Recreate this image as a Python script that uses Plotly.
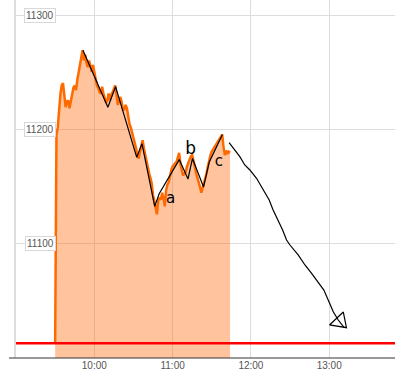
import plotly.graph_objects as go

DAY = "2024-01-02 "

# Intraday index values (orange area)
times = ["09:30", "09:31", "09:32", "09:33", "09:34", "09:35", "09:36", "09:37", "09:38", "09:39",
         "09:40", "09:41", "09:42", "09:43", "09:44", "09:45", "09:46", "09:47", "09:48", "09:49",
         "09:50", "09:51", "09:52", "09:53", "09:54", "09:55", "09:56", "09:57", "09:58", "09:59",
         "10:00", "10:01", "10:02", "10:03", "10:04", "10:05", "10:06", "10:07", "10:08", "10:09",
         "10:10", "10:11", "10:12", "10:13", "10:14", "10:15", "10:16", "10:17", "10:18", "10:19",
         "10:20", "10:21", "10:22", "10:23", "10:24", "10:25", "10:26", "10:27", "10:28", "10:29",
         "10:30", "10:31", "10:32", "10:33", "10:34", "10:35", "10:36", "10:37", "10:38", "10:39",
         "10:40", "10:41", "10:42", "10:43", "10:44", "10:45", "10:46", "10:47", "10:48", "10:49",
         "10:50", "10:51", "10:52", "10:53", "10:54", "10:55", "10:56", "10:57", "10:58", "10:59",
         "11:00", "11:01", "11:02", "11:03", "11:04", "11:05", "11:06", "11:07", "11:08", "11:09",
         "11:10", "11:11", "11:12", "11:13", "11:14", "11:15", "11:16", "11:17", "11:18", "11:19",
         "11:20", "11:21", "11:22", "11:23", "11:24", "11:25", "11:26", "11:27", "11:28", "11:29",
         "11:30", "11:31", "11:32", "11:33", "11:34", "11:35", "11:36", "11:37", "11:38", "11:39",
         "11:40", "11:41", "11:42", "11:43", "11:44"]
values = [11013, 11196, 11202, 11218, 11231, 11239, 11241, 11231, 11220, 11225,
          11226, 11219, 11226, 11232, 11237, 11239, 11235, 11244, 11251, 11256,
          11261, 11270, 11261, 11266, 11259, 11255, 11261, 11254, 11251, 11257,
          11251, 11245, 11239, 11237, 11233, 11232, 11238, 11232, 11228, 11224,
          11226, 11232, 11226, 11231, 11233, 11237, 11239, 11231, 11222, 11225,
          11229, 11224, 11218, 11218, 11222, 11219, 11211, 11205, 11202, 11198,
          11194, 11189, 11184, 11178, 11175, 11181, 11187, 11191, 11184, 11178,
          11174, 11168, 11162, 11158, 11153, 11143, 11137, 11132, 11126, 11139,
          11140, 11139, 11145, 11140, 11133, 11147, 11152, 11154, 11160, 11165,
          11168, 11170, 11171, 11172, 11176, 11180, 11170, 11163, 11160, 11162,
          11163, 11168, 11171, 11175, 11177, 11178, 11174, 11168, 11162, 11157,
          11154, 11150, 11145, 11149, 11153, 11157, 11162, 11168, 11174, 11178,
          11181, 11183, 11185, 11186, 11189, 11191, 11193, 11195, 11196, 11185,
          11178, 11182, 11179, 11181, 11180]

prev_close = 11013

# Hand-drawn zigzag annotation
zig_times = ["09:51:18", "10:10:24", "10:16:18", "10:32:30", "10:36:30", "10:46:18", "10:49:42",
             "11:05:06", "11:11:48", "11:15:12", "11:23:42", "11:28:06", "11:38:12"]
zig_values = [11270, 11220, 11238, 11176, 11188, 11133, 11144,
              11174, 11157, 11175, 11150, 11172, 11196]

# Hand-drawn arrow
arrow_times = ["11:43:18", "11:47:39", "11:51:30", "11:55:18", "11:59:12", "12:04:18", "12:09:24",
               "12:14:00", "12:17:00", "12:20:54", "12:24:18", "12:27:18", "12:29:54", "12:36:12",
               "12:41:24", "12:46:30", "12:51:36", "12:55:54", "12:59:12", "13:03:06", "13:06:54",
               "13:11:18"]
arrow_values = [11189, 11182.5, 11176.6, 11169.3, 11164.9, 11157.6, 11147.4,
                11138.6, 11129.8, 11121.1, 11112.3, 11103.5, 11099.1, 11090.4,
                11081.6, 11074.3, 11066.9, 11059.6, 11050.9, 11040.6, 11033.3,
                11026.9]
head_times = ["13:00:12", "13:10:48", "13:13:12", "13:00:12"]
head_values = [11029, 11040.3, 11026.6, 11029]

# Hand-written labels
label_text = ["a", "b", "c"]
label_times = ["10:58:30", "11:13:54", "11:35:24"]
label_values = [11139, 11183, 11172]
label_sizes = [15, 17, 15]

# Axis ticks
x_tick_times = ["09:00", "10:00", "11:00", "12:00", "13:00"]
x_tick_text = ["", "10:00", "11:00", "12:00", "13:00"]
y_ticks = [11100, 11200, 11300]
x_range = ["09:00:00", "13:50:24"]
y_range = [11000, 11314]

d = lambda ts: [DAY + t for t in ts]

fig = go.Figure()
fig.add_trace(go.Scatter(
    x=d(times), y=values, mode="lines", fill="tozeroy",
    fillcolor="rgba(255,102,0,0.385)",
    line=dict(color="#ff6a00", width=2.5), hoverinfo="skip"))
fig.add_trace(go.Scatter(
    x=d(zig_times), y=zig_values, mode="lines",
    line=dict(color="black", width=1.2), hoverinfo="skip"))
fig.add_trace(go.Scatter(
    x=d(arrow_times), y=arrow_values, mode="lines",
    line=dict(color="black", width=1.2), hoverinfo="skip"))
fig.add_trace(go.Scatter(
    x=d(head_times), y=head_values, mode="lines",
    line=dict(color="black", width=1.2), hoverinfo="skip"))
fig.add_trace(go.Scatter(
    x=d(label_times), y=label_values, mode="text", text=label_text,
    textfont=dict(family="DejaVu Sans", size=label_sizes, color="black"), hoverinfo="skip"))

fig.add_hline(y=prev_close, line=dict(color="#ff0000", width=2.5), layer="above")

# bottom axis line extending slightly to the left of the plot area
fig.add_shape(type="line", xref="paper", yref="paper", x0=-7 / 379, x1=1, y0=0, y1=0,
              line=dict(color="#333333", width=1))

for v in y_ticks:
    fig.add_annotation(x=0.0646, xref="paper", y=v, yref="y", text=str(v), showarrow=False,
                       xanchor="center", yanchor="middle",
                       font=dict(family="Liberation Sans", size=10, color="#555555"),
                       bgcolor="white", bordercolor="#d8d8d8", borderwidth=1, borderpad=1)

fig.update_layout(
    width=395, height=372,
    margin=dict(l=16, r=0, t=0, b=14),
    paper_bgcolor="white", plot_bgcolor="white",
    showlegend=False,
    xaxis=dict(type="date", range=d(x_range), tickvals=d(x_tick_times), ticktext=x_tick_text,
               showgrid=True, gridcolor="#dddddd", gridwidth=1, zeroline=False,
               showline=False, ticks="",
               tickfont=dict(family="Liberation Sans", size=10, color="#555555"),
               fixedrange=True),
    yaxis=dict(range=y_range, tickvals=y_ticks, showticklabels=False,
               showgrid=True, gridcolor="#dddddd", gridwidth=1, zeroline=False,
               showline=True, linecolor="#dddddd", linewidth=2, ticks="", fixedrange=True),
)

fig.write_html("out.html")
